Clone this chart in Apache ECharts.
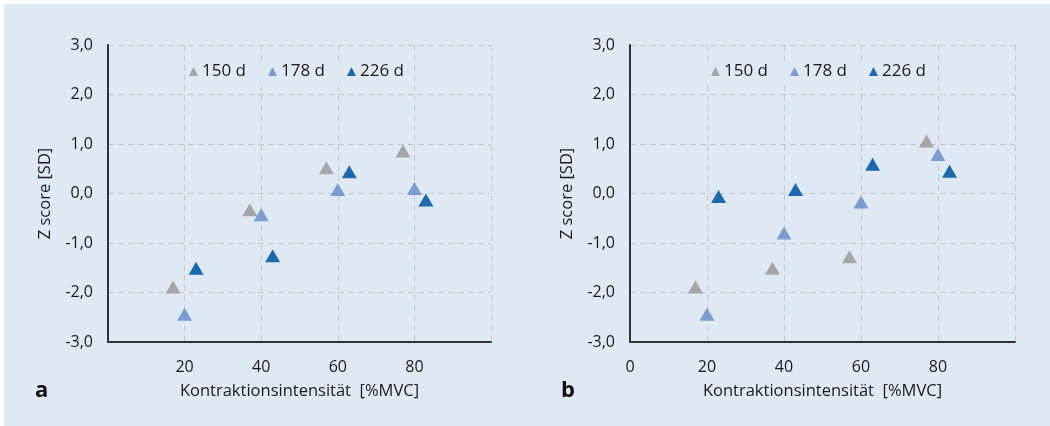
<!DOCTYPE html>
<html>
<head>
<meta charset="utf-8">
<script src="https://cdn.jsdelivr.net/npm/echarts@6/dist/echarts.min.js"></script>
<style>
html,body{margin:0;padding:0;background:#ffffff;}
#wrap{position:absolute;left:0;top:0;width:1050px;height:426px;}
#chart{width:1050px;height:426px;}
</style>
</head>
<body>
<div id="wrap"><div id="chart"></div></div>
<script>
// ---- data ----
const seriesNames = ['150 d', '178 d', '226 d'];
const xA150 = [17, 37, 57, 77];
const yA150 = [-1.89, -0.33, 0.52, 0.86];
const xA178 = [20, 40, 60, 80];
const yA178 = [-2.44, -0.43, 0.08, 0.10];
const xA226 = [23, 43, 63, 83];
const yA226 = [-1.51, -1.26, 0.44, -0.13];

const xB150 = [17, 37, 57, 77];
const yB150 = [-1.89, -1.51, -1.28, 1.06];
const xB178 = [20, 40, 60, 80];
const yB178 = [-2.44, -0.80, -0.17, 0.79];
const xB226 = [23, 43, 63, 83];
const yB226 = [-0.06, 0.08, 0.59, 0.45];

const yTicks = [-3, -2, -1, 0, 1, 2, 3];
const xTicksA = ['', '20', '40', '60', '80', ''];
const xTicksB = ['0', '20', '40', '60', '80', ''];
const panelLabels = ['a', 'b'];
const xTitle = 'Kontraktionsintensität  [%MVC]';
const yTitle = 'Z score [SD]';

const colors = ['#a6a6a6', '#7b9bd3', '#1c69ad'];
const bg = '#dfe9f3';
const FONT = '"Open Sans", "Noto Sans", sans-serif';
const TXT = '#1a1a1a';

const pairs = (xs, ys) => xs.map((x, i) => [x, ys[i]]);

const chart = echarts.init(document.getElementById('chart'), null, {renderer: 'canvas'});

function xAxisFor(gi, ticks) {
  return {
    gridIndex: gi, type: 'value', min: 0, max: 100, interval: 20, position: 'bottom',
    name: xTitle, nameLocation: 'middle', nameGap: 41,
    nameTextStyle: {fontFamily: FONT, fontSize: 16.5, color: TXT},
    axisLine: {show: true, onZero: false, lineStyle: {color: '#333333', width: 2}},
    axisTick: {show: false},
    axisLabel: {margin: 17, fontFamily: FONT, fontSize: 16, color: TXT,
      formatter: v => ticks[Math.round(v / 20)] || ''},
    splitLine: {show: true, lineStyle: {color: '#c6c6c6', type: [6, 4], width: 1}},
    z: 5
  };
}
function yAxisFor(gi) {
  return {
    gridIndex: gi, type: 'value', min: yTicks[0], max: yTicks[yTicks.length - 1], interval: 1,
    position: 'left',
    name: yTitle, nameLocation: 'middle', nameGap: 54, nameRotate: 90,
    nameTextStyle: {fontFamily: FONT, fontSize: 16.5, color: TXT},
    axisLine: {show: true, onZero: false, lineStyle: {color: '#333333', width: 2}},
    axisTick: {show: false},
    axisLabel: {margin: 15, fontFamily: FONT, fontSize: 16, color: TXT,
      formatter: v => v.toFixed(1).replace('.', ',')},
    splitLine: {show: true, lineStyle: {color: '#c6c6c6', type: [6, 4], width: 1}},
    z: 5
  };
}
function sc(name, gi, data, color) {
  return {
    name: name, type: 'scatter', xAxisIndex: gi, yAxisIndex: gi,
    symbol: 'triangle', symbolSize: [15, 13], data: data,
    itemStyle: {color: color, opacity: 1}, z: 10
  };
}
function legendFor(left) {
  return {
    data: seriesNames, left: left, top: 61, icon: 'triangle',
    itemWidth: 9, itemHeight: 9, itemGap: 22,
    backgroundColor: bg, padding: [2, 4],
    textStyle: {fontFamily: FONT, fontSize: 17, color: TXT, padding: [0, 0, 0, -1]},
    selectedMode: false, z: 12
  };
}

chart.setOption({
  backgroundColor: 'transparent',
  animation: false,
  graphic: [
    {type: 'rect', left: 4, top: 4, shape: {width: 1046, height: 422}, style: {fill: bg}, z: -10},
    {type: 'text', left: 35, top: 380, style: {text: panelLabels[0], font: 'bold 22px ' + FONT, fill: '#111'}},
    {type: 'text', left: 561, top: 380, style: {text: panelLabels[1], font: 'bold 22px ' + FONT, fill: '#111'}}
  ],
  legend: [legendFor(185), legendFor(707)],
  grid: [
    {left: 108, right: 559, top: 45, bottom: 84, containLabel: false},
    {left: 630, right: 35, top: 45, bottom: 84, containLabel: false}
  ],
  xAxis: [xAxisFor(0, xTicksA), xAxisFor(1, xTicksB)],
  yAxis: [yAxisFor(0), yAxisFor(1)],
  series: [
    sc(seriesNames[0], 0, pairs(xA150, yA150), colors[0]),
    sc(seriesNames[1], 0, pairs(xA178, yA178), colors[1]),
    sc(seriesNames[2], 0, pairs(xA226, yA226), colors[2]),
    sc(seriesNames[0], 1, pairs(xB150, yB150), colors[0]),
    sc(seriesNames[1], 1, pairs(xB178, yB178), colors[1]),
    sc(seriesNames[2], 1, pairs(xB226, yB226), colors[2])
  ]
});
</script>
</body>
</html>
